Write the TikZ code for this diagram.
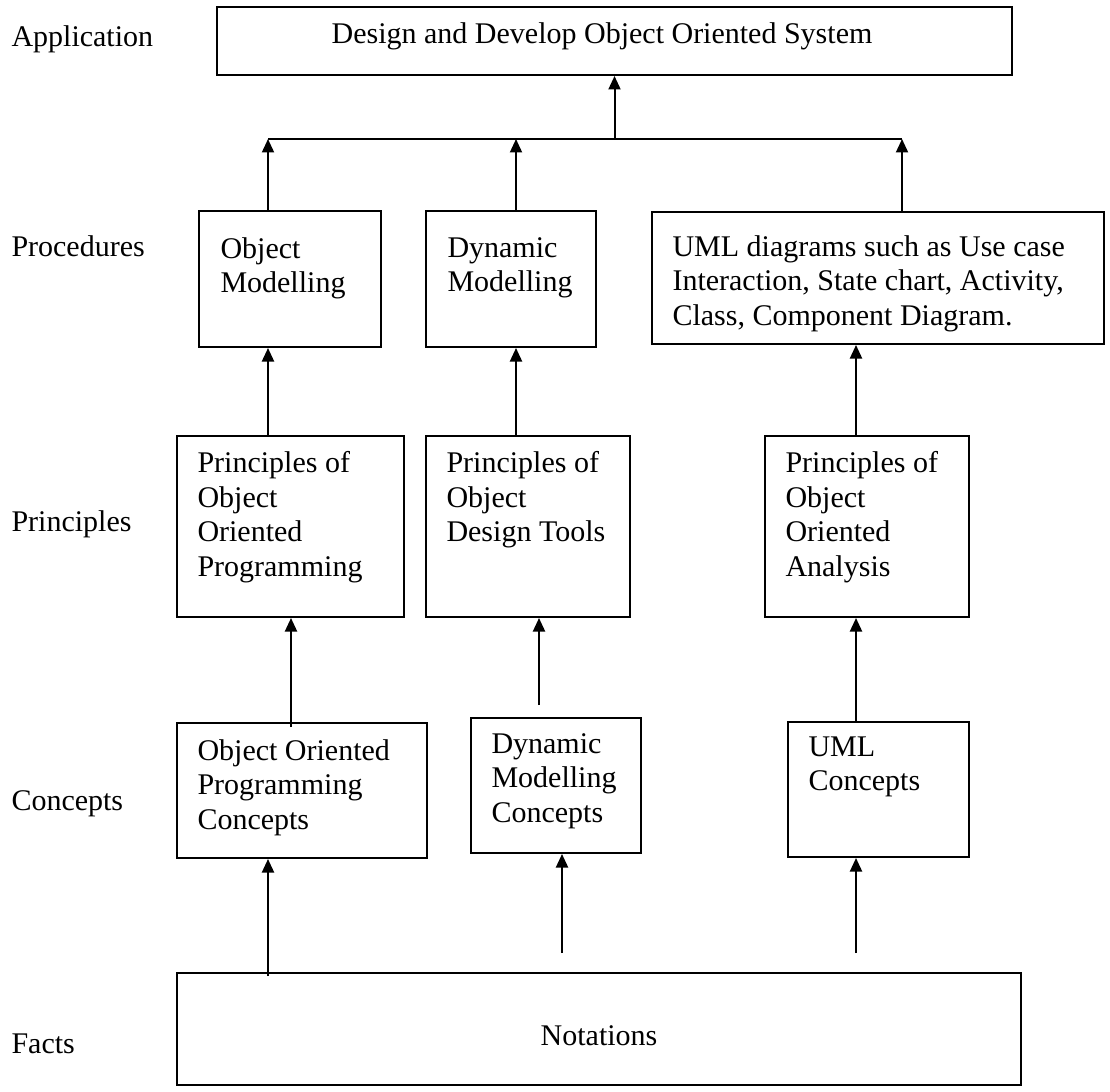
\documentclass[tikz,border=0pt]{standalone}
\usepackage{fontspec}
\setmainfont{Liberation Serif}
\usetikzlibrary{arrows.meta,fit}
\begin{document}
\begin{tikzpicture}[x=0.4pt,y=-0.4pt,
  box/.style={draw,line width=0.8pt,inner sep=0pt},
  txt/.style={inner sep=0pt,align=left,anchor=north west,font=\fontsize{12}{13.8}\selectfont},
  lbl/.style={inner sep=0pt,anchor=base west,font=\fontsize{12}{13.8}\selectfont},
  ln/.style={line width=0.8pt},
  arr/.style={line width=0.8pt,-{Triangle[width=4.8pt,length=5.4pt]}}]
\useasboundingbox (0,0) rectangle (1110,1091);
% left labels
\node[lbl] (lapp) at (11,47) {Application};
\node[lbl] (lproc) at (11,257) {Procedures};
\node[lbl] (lprin) at (11,531) {Principles};
\node[lbl] (lconc) at (11,810) {Concepts};
\node[lbl] (lfact) at (11,1053) {Facts};
% boxes
\node[box, fit={(217,7) (1012,75)}] (top) {};
\node[box, fit={(199,211) (381,347)}] (om) {};
\node[box, fit={(426,211) (596,347)}] (dm) {};
\node[box, fit={(652,212) (1104,344)}] (uml) {};
\node[box, fit={(177,436) (404,617)}] (poop) {};
\node[box, fit={(426,436) (630,617)}] (podt) {};
\node[box, fit={(765,436) (969,617)}] (pooa) {};
\node[box, fit={(177,723) (427,858)}] (oopc) {};
\node[box, fit={(471,718) (641,853)}] (dmc) {};
\node[box, fit={(788,722) (969,857)}] (umlc) {};
\node[box, fit={(177,973) (1021,1085)}] (nota) {};
% texts
\node[txt,anchor=base] (topt) at (602,44) {Design and Develop Object Oriented System};
\node[txt] (omt) at (220,237) {Object\\Modelling};
\node[txt] (dmt) at (447,237) {Dynamic\\Modelling};
\node[txt] (umlt) at (672,235) {UML diagrams such as Use case\\Interaction, State chart, Activity,\\Class, Component Diagram.};
\node[txt] (poopt) at (197,451) {Principles of\\Object\\Oriented\\Programming};
\node[txt] (podtt) at (446,451) {Principles of\\Object\\Design Tools};
\node[txt] (pooat) at (785,451) {Principles of\\Object\\Oriented\\Analysis};
\node[txt] (oopct) at (197,739) {Object Oriented\\Programming\\Concepts};
\node[txt] (dmct) at (491,733) {Dynamic\\Modelling\\Concepts};
\node[txt] (umlct) at (808,736) {UML\\Concepts};
\node[txt,anchor=base] (notat) at (599,1045) {Notations};
% coordinates
\coordinate (hl) at (268,139);
\coordinate (hm) at (516,139);
\coordinate (hr) at (902,139);
\coordinate (xa) at (291,0);
\coordinate (xb) at (539,0);
\coordinate (xc) at (856,0);
\coordinate (xd) at (562,0);
\coordinate (dmcend) at (539,705);
\coordinate (ooend) at (291,727);
\coordinate (nl) at (268,976);
\coordinate (nd) at (562,953);
\coordinate (nu) at (856,953);
% top level connectors
\draw[ln] (hl) -- (hr);
\draw[arr] (top.south |- hl) -- (top.south);
\draw[arr] (hl |- om.north) -- (hl);
\draw[arr] (hm |- dm.north) -- (hm);
\draw[arr] (hr |- uml.north) -- (hr);
% principles to procedures
\draw[arr] (hl |- poop.north) -- (hl |- om.south);
\draw[arr] (hm |- podt.north) -- (hm |- dm.south);
\draw[arr] (xc |- pooa.north) -- (xc |- uml.south);
% concepts to principles
\draw[arr] (ooend) -- (xa |- poop.south);
\draw[arr] (dmcend) -- (xb |- podt.south);
\draw[arr] (xc |- umlc.north) -- (xc |- pooa.south);
% facts to concepts
\draw[arr] (nl) -- (hl |- oopc.south);
\draw[arr] (nd) -- (xd |- dmc.south);
\draw[arr] (nu) -- (xc |- umlc.south);
\end{tikzpicture}
\end{document}
